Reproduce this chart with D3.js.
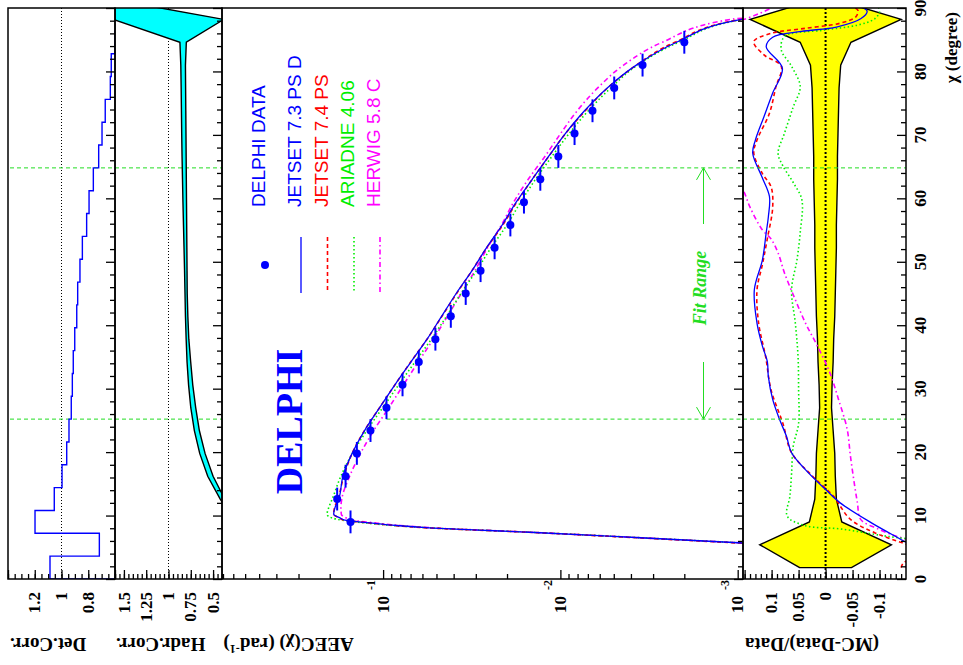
<!DOCTYPE html>
<html>
<head>
<meta charset="utf-8">
<script src="https://cdn.jsdelivr.net/npm/d3@7"></script>
<style>
  body { margin: 0; background: #fff; }
  svg { display: block; }
</style>
</head>
<body>
<svg id="chart" width="963" height="665"></svg>
<script>
// ---------------- data ----------------
// chi bin centres (degrees), bins of 3.6 degrees
const chiBins = [1.8, 5.4, 9.0, 12.6, 16.2, 19.8, 23.4, 27.0, 30.6, 34.2, 37.8, 41.4, 45.0,
                 48.6, 52.2, 55.8, 59.4, 63.0, 66.6, 70.2, 73.8, 77.4, 81.0, 84.6, 88.2];
const binHalfWidth = 1.8;

// detector correction factor per bin
const detCorr = [1.086, 0.717, 1.198, 1.054, 0.996, 0.961, 0.944, 0.927, 0.919, 0.912, 0.901, 0.886, 0.879,
                 0.862, 0.844, 0.812, 0.794, 0.762, 0.722, 0.697, 0.673, 0.635, 0.628, 0.600, 0.590];

// hadronisation correction band (upper / lower edge)
const hadrChi   = [1.8, 5.4, 9.0, 12.6, 16.2, 19.8, 23.4, 27.0, 30.6, 34.2, 37.8, 41.4, 45.0,
                   48.6, 52.2, 55.8, 59.4, 63.0, 66.6, 70.2, 73.8, 77.4, 81.0, 84.6, 88.2, 91.8];
const hadrUpper = [0.10, 0.15, 0.25, 0.42, 0.56, 0.65, 0.71, 0.75, 0.775, 0.792, 0.802, 0.810, 0.815,
                   0.820, 0.826, 0.832, 0.838, 0.843, 0.848, 0.852, 0.855, 0.858, 0.862, 0.872, 1.62, 1.80];
const hadrLower = [0.05, 0.10, 0.20, 0.37, 0.50, 0.59, 0.654, 0.695, 0.728, 0.751, 0.772, 0.783, 0.790,
                   0.792, 0.794, 0.796, 0.798, 0.800, 0.802, 0.804, 0.806, 0.808, 0.810, 0.800, 0.38, 1.80];

// DELPHI AEEC measurement (rad^-1)
const dataChi  = [9.0, 12.6, 16.2, 19.8, 23.4, 27.0, 30.6, 34.2, 37.8, 41.4, 45.0,
                  48.6, 52.2, 55.8, 59.4, 63.0, 66.6, 70.2, 73.8, 77.4, 81.0, 84.6];
const dataAEEC = [0.1527, 0.1816, 0.1628, 0.1406, 0.1178, 0.0957, 0.0777, 0.0629, 0.0507, 0.0415, 0.0342,
                  0.0282, 0.0235, 0.01915, 0.01605, 0.01298, 0.01027, 0.00832, 0.00659, 0.00497, 0.00344, 0.00200];

// model predictions of AEEC on a common chi grid
const modelChi = [5.4, 6.5, 7.37, 8.06, 8.43, 8.85, 9.27, 9.64, 10.2, 11.2, 12.6, 16.2, 19.8, 23.4, 27.0, 30.6,
                  34.2, 37.8, 41.4, 45.0, 48.6, 52.2, 55.8, 59.4, 63.0, 66.6, 70.2, 73.8, 77.4, 81.0, 84.6, 88.2, 90.0];
const aeecJetset73 = [0.0006, 0.00355, 0.0149, 0.0546, 0.0841, 0.119, 0.1644, 0.1754, 0.190, 0.187, 0.178, 0.1685,
                      0.1495, 0.1272, 0.1046, 0.0858, 0.0697, 0.0565, 0.0468, 0.0387, 0.0315, 0.02614, 0.0213,
                      0.01776, 0.01441, 0.01166, 0.00938, 0.00731, 0.00544, 0.00373, 0.00221, 0.00095, 0.00001];
const aeecJetset74 = [0.00065, 0.0037, 0.0152, 0.056, 0.086, 0.121, 0.165, 0.177, 0.190, 0.188, 0.1798, 0.1667,
                      0.1495, 0.1274, 0.1047, 0.0858, 0.0699, 0.0565, 0.0466, 0.0385, 0.03154, 0.02606, 0.02111,
                      0.01763, 0.01441, 0.01164, 0.00936, 0.00724, 0.00542, 0.00373, 0.00226, 0.00096, 0.00001];
const aeecAriadne  = [0.0006, 0.0035, 0.0148, 0.055, 0.088, 0.128, 0.170, 0.195, 0.207, 0.203, 0.1936, 0.1730,
                      0.1491, 0.1237, 0.1005, 0.0817, 0.0661, 0.0534, 0.0439, 0.03636, 0.02973, 0.02463, 0.02003,
                      0.01676, 0.01382, 0.01117, 0.00893, 0.00696, 0.0052, 0.00367, 0.00215, 0.00094, 0.00001];
const aeecHerwig   = [0.0006, 0.0035, 0.0146, 0.052, 0.080, 0.112, 0.148, 0.162, 0.172, 0.173, 0.1711, 0.1544,
                      0.1341, 0.1130, 0.0928, 0.0768, 0.0634, 0.0521, 0.0434, 0.03626, 0.03035, 0.02578, 0.02149,
                      0.01835, 0.01518, 0.01223, 0.00998, 0.00804, 0.00616, 0.0044, 0.00266, 0.0011, 0.00001];

// (MC - Data)/Data for each model
const j73RatioChi = [1.8, 4.0, 5.7, 6.7, 8.85, 12.0, 14.1, 17.2, 19.9, 22.5, 25.1, 28.3, 31.9, 34.3, 36.7, 40.3,
                     45.6, 50.3, 54.6, 57.1, 60.3, 63.4, 67.1, 69.2, 72.9, 76.6, 80.5, 83.9, 85.4, 86.3, 87.0, 88.3, 89.5, 90.0];
const j73Ratio    = [-0.20, -0.25, -0.152, -0.13, -0.085, -0.027, 0.0, 0.037, 0.063, 0.0725, 0.085, 0.098, 0.106,
                     0.108, 0.117, 0.127, 0.132, 0.117, 0.110, 0.106, 0.104, 0.118, 0.135, 0.130, 0.114, 0.098,
                     0.080, 0.110, 0.098, 0.045, -0.020, -0.065, -0.077, -0.070];
const j74RatioChi = [1.8, 2.6, 4.0, 5.7, 7.3, 9.4, 13.1, 16.2, 19.9, 24.5, 29.8, 35.0, 40.3, 45.6, 49.6, 53.6,
                     58.6, 61.8, 63.9, 67.1, 69.2, 73.4, 77.6, 80.8, 82.6, 84.7, 86.0, 86.8, 87.6, 88.6, 89.6, 90.0];
const j74Ratio    = [-0.140, -0.145, -0.200, -0.142, -0.091, -0.046, -0.014, 0.024, 0.063, 0.079, 0.101, 0.111,
                     0.124, 0.127, 0.117, 0.108, 0.098, 0.101, 0.117, 0.133, 0.127, 0.104, 0.092, 0.082, 0.114,
                     0.133, 0.101, 0.037, -0.027, -0.056, -0.060, -0.055];
const ariRatioChi = [5.9, 6.7, 7.9, 8.4, 9.9, 13.1, 16.7, 20.9, 24.5, 29.8, 35.0, 40.3, 45.6, 50.3, 54.6, 59.8,
                     62.5, 65.1, 67.1, 70.3, 74.4, 77.6, 80.8, 83.4, 85.5, 86.5, 87.3, 88.3, 89.4, 90.0];
const ariRatio    = [-0.20, -0.117, -0.027, 0.037, 0.071, 0.066, 0.063, 0.060, 0.050, 0.050, 0.051, 0.056, 0.063,
                     0.053, 0.047, 0.044, 0.060, 0.079, 0.088, 0.076, 0.060, 0.047, 0.063, 0.082, 0.076, 0.005,
                     -0.059, -0.091, -0.100, -0.098];
const herRatioChi = [1.8, 3.0, 5.0, 6.3, 7.9, 9.4, 12.0, 15.2, 19.4, 23.6, 28.3, 32.5, 36.7, 40.3, 44.0, 48.2,
                     51.4, 53.6, 55.0, 58.6, 61.3, 63.0, 66.6, 70.2, 73.8, 77.4, 81.0, 84.6, 86.5, 88.0, 90.0];
const herRatio    = [-0.148, -0.16, -0.25, -0.149, -0.097, -0.065, -0.059, -0.053, -0.046, -0.040, -0.024, -0.008,
                     0.015, 0.037, 0.056, 0.076, 0.088, 0.101, 0.117, 0.140, 0.153, 0.170, 0.190, 0.200, 0.220,
                     0.240, 0.280, 0.330, 0.300, 0.160, 0.100];

// relative data error band
const errChi  = [1.8, 5.4, 9.0, 12.6, 16.2, 19.8, 23.4, 27.0, 30.6, 34.2, 37.8, 41.4, 45.0,
                 48.6, 52.2, 55.8, 59.4, 63.0, 66.6, 70.2, 73.8, 77.4, 81.0, 84.6, 88.2, 91.8];
const relErr  = [0.048, 0.122, 0.030, 0.020, 0.018, 0.017, 0.014, 0.011, 0.012, 0.014, 0.015, 0.017, 0.018,
                 0.019, 0.020, 0.020, 0.021, 0.022, 0.022, 0.023, 0.024, 0.025, 0.028, 0.047, 0.140, 0.0];

// fit range limits (degrees) and AEEC value where the marker line ends
const fitRange = [25.2, 64.8];
const fitLineAEEC = [0.0957, 0.0130];

// axis tick labels
const chiTickLabels = ["0", "10", "20", "30", "40", "50", "60", "70", "80", "90"];
const detTickLabels = ["1.2", "1", "0.8"];
const hadrTickLabels = ["1.5", "1.25", "1", "0.75", "0.5"];
const aeecTickExponents = ["-1", "-2", "-3"];
const ratioTickLabels = ["0.1", "0.05", "0", "-0.05", "-0.1"];

const legendEntries = [
  { label: "DELPHI DATA",      color: "#0000ff", kind: "dot" },
  { label: "JETSET 7.3 PS D",  color: "#0000ff", kind: "solid" },
  { label: "JETSET 7.4 PS",    color: "#ff0000", kind: "dashed" },
  { label: "ARIADNE 4.06",     color: "#00ee00", kind: "dotted" },
  { label: "HERWIG 5.8 C",     color: "#ff00ff", kind: "dashdot" }
];

// ---------------- layout ----------------
const SERIF = "'Liberation Serif','Times New Roman',serif";
const SANS = "'Liberation Sans',Arial,Helvetica,sans-serif";
const yTop = 8, yBot = 579;
const edges = { det: [8, 115], hadr: [115, 222], aeec: [222, 743], ratio: [743, 906] };

const chiY   = d3.scaleLinear().domain([0, 90]).range([yBot, yTop]);
const detX   = d3.scaleLinear().domain([0.6, 1.4]).range([edges.det[1], edges.det[0]]);
const hadrX  = d3.scaleLinear().domain([0.4, 1.6]).range([edges.hadr[1], edges.hadr[0]]);
const aeecX  = d3.scaleLog().domain([Math.pow(10, -3.03), Math.pow(10, -0.0913)]).range([edges.aeec[1], edges.aeec[0]]);
const ratioX = d3.scaleLinear().domain([-0.149, 0.153]).range([edges.ratio[1], edges.ratio[0]]);

const styles = {
  solid:   { color: "#0000ff", width: 1.3, dash: null },
  dashed:  { color: "#ff0000", width: 1.6, dash: "4,3" },
  dotted:  { color: "#00ee00", width: 1.6, dash: "1.5,2.5" },
  dashdot: { color: "#ff00ff", width: 1.6, dash: "5,3,1.5,3" }
};

const svg = d3.select("#chart");
const defs = svg.append("defs");
Object.entries(edges).forEach(([k, [x0, x1]]) => {
  defs.append("clipPath").attr("id", "clip-" + k)
    .append("rect").attr("x", x0).attr("y", yTop).attr("width", x1 - x0).attr("height", yBot - yTop);
});

function panel(k) { return svg.append("g").attr("clip-path", `url(#clip-${k})`); }

function styled(sel, st) {
  sel.attr("fill", "none").attr("stroke", st.color).attr("stroke-width", st.width);
  if (st.dash) sel.attr("stroke-dasharray", st.dash);
  return sel;
}

function fitLines(g, x0, x1) {
  fitRange.forEach((c, i) => {
    const xa = typeof x0 === "function" ? x0(i) : x0;
    g.append("line").attr("x1", xa).attr("x2", x1).attr("y1", chiY(c)).attr("y2", chiY(c))
      .attr("stroke", "#22dd22").attr("stroke-width", 1).attr("stroke-dasharray", "4,3");
  });
}

function bandPath(xScale, chi, up, lo) {
  const pts = chi.map((c, i) => [xScale(up[i]), chiY(c)])
    .concat(chi.map((c, i) => [xScale(lo[i]), chiY(c)]).reverse());
  return d3.line()(pts) + "Z";
}

// ---------- Det.Corr. panel ----------
const gDet = panel("det");
gDet.append("line").attr("x1", detX(1)).attr("x2", detX(1)).attr("y1", yTop).attr("y2", yBot)
  .attr("stroke", "#000").attr("stroke-width", 1).attr("stroke-dasharray", "1,2");
fitLines(gDet, edges.det[0] + 2, edges.det[1]);
const detPts = [[detX.domain()[0], 0]];
chiBins.forEach((c, i) => {
  detPts.push([detCorr[i], c - binHalfWidth]);
  detPts.push([detCorr[i], c + binHalfWidth]);
});
detPts.push([detX.domain()[0], 90]);
gDet.append("path")
  .attr("d", d3.line().x(d => detX(d[0])).y(d => chiY(d[1]))(detPts))
  .attr("fill", "none").attr("stroke", "#0000ff").attr("stroke-width", 1.4);

// ---------- Hadr.Corr. panel ----------
const gHadr = panel("hadr");
gHadr.append("line").attr("x1", hadrX(1)).attr("x2", hadrX(1)).attr("y1", yTop).attr("y2", yBot)
  .attr("stroke", "#000").attr("stroke-width", 1).attr("stroke-dasharray", "1,2");
fitLines(gHadr, edges.hadr[0], edges.hadr[1]);
gHadr.append("path").attr("d", bandPath(hadrX, hadrChi, hadrUpper, hadrLower))
  .attr("fill", "#00ffff").attr("stroke", "#000").attr("stroke-width", 1.4);

// ---------- AEEC panel ----------
const gA = panel("aeec");
fitLines(gA, i => aeecX(fitLineAEEC[i]), edges.aeec[1]);
const models = [
  { vals: aeecHerwig,   st: styles.dashdot },
  { vals: aeecAriadne,  st: styles.dotted },
  { vals: aeecJetset74, st: styles.dashed },
  { vals: aeecJetset73, st: styles.solid }
];
const aeecLine = d3.line().x(d => aeecX(d[1])).y(d => chiY(d[0])).curve(d3.curveMonotoneY);
models.forEach(m => {
  const pts = modelChi.map((c, i) => [c, m.vals[i]]).reverse();
  styled(gA.append("path").attr("d", aeecLine(pts)), m.st);
});
// data points with bin-width bars
const gData = gA.append("g");
dataChi.forEach((c, i) => {
  gData.append("line").attr("x1", aeecX(dataAEEC[i])).attr("x2", aeecX(dataAEEC[i]))
    .attr("y1", chiY(c - binHalfWidth)).attr("y2", chiY(c + binHalfWidth))
    .attr("stroke", "#0000ff").attr("stroke-width", 2);
  gData.append("circle").attr("cx", aeecX(dataAEEC[i])).attr("cy", chiY(c)).attr("r", 4)
    .attr("fill", "#0000ff");
});

// fit range arrows and label
const arrowX = 703.5;
const gFit = svg.append("g").attr("stroke", "#22dd22").attr("fill", "none").attr("stroke-width", 1);
gFit.append("line").attr("x1", arrowX).attr("x2", arrowX).attr("y1", 224).attr("y2", chiY(fitRange[1]));
gFit.append("polyline").attr("points",
  `${arrowX - 7},${chiY(fitRange[1]) + 12} ${arrowX},${chiY(fitRange[1])} ${arrowX + 7},${chiY(fitRange[1]) + 12}`);
gFit.append("line").attr("x1", arrowX).attr("x2", arrowX).attr("y1", 362).attr("y2", chiY(fitRange[0]));
gFit.append("polyline").attr("points",
  `${arrowX - 7},${chiY(fitRange[0]) - 12} ${arrowX},${chiY(fitRange[0])} ${arrowX + 7},${chiY(fitRange[0]) - 12}`);
svg.append("text").attr("transform", `translate(706,288) rotate(-90)`)
  .attr("text-anchor", "middle").attr("font-family", SERIF).attr("font-weight", "bold")
  .attr("font-style", "italic").attr("font-size", 18).attr("fill", "#22dd22").text("Fit Range");

// DELPHI logo text
svg.append("text").attr("transform", `translate(302,421.5) rotate(-90)`)
  .attr("text-anchor", "middle").attr("font-family", SERIF).attr("font-weight", "bold")
  .attr("font-size", 38).attr("fill", "#0000ff").text("DELPHI");

// legend
const legendX = [265, 301, 327.5, 354, 380];
legendEntries.forEach((e, i) => {
  const x = legendX[i];
  if (e.kind === "dot") {
    svg.append("circle").attr("cx", x).attr("cy", 265).attr("r", 4).attr("fill", e.color);
  } else {
    styled(svg.append("line").attr("x1", x).attr("x2", x).attr("y1", 237).attr("y2", 293), styles[e.kind]);
  }
  svg.append("text").attr("transform", `translate(${x},207) rotate(-90)`)
    .attr("text-anchor", "start").attr("font-family", SANS).attr("font-size", 19)
    .attr("fill", e.color).text(e.label);
});

// ---------- ratio panel ----------
const gR = panel("ratio");
const negErr = relErr.map(v => -v);
gR.append("path").attr("d", bandPath(ratioX, errChi, relErr, negErr))
  .attr("fill", "#ffff00").attr("stroke", "#000").attr("stroke-width", 1.4);
gR.append("line").attr("x1", ratioX(0)).attr("x2", ratioX(0)).attr("y1", yTop).attr("y2", yBot)
  .attr("stroke", "#000").attr("stroke-width", 2).attr("stroke-dasharray", "2,2");
const ratioLine = d3.line().x(d => ratioX(d[1])).y(d => chiY(d[0])).curve(d3.curveCatmullRom.alpha(0.5));
[
  { chi: herRatioChi, r: herRatio, st: styles.dashdot },
  { chi: ariRatioChi, r: ariRatio, st: styles.dotted },
  { chi: j74RatioChi, r: j74Ratio, st: styles.dashed },
  { chi: j73RatioChi, r: j73Ratio, st: styles.solid }
].forEach(m => {
  const pts = m.chi.map((c, i) => [c, m.r[i]]);
  styled(gR.append("path").attr("d", ratioLine(pts)), m.st);
});
fitLines(gR, edges.ratio[0], edges.ratio[1]);

// ---------- frames and axes ----------
const gAxes = svg.append("g");
Object.values(edges).forEach(([x0, x1]) => {
  gAxes.append("rect").attr("x", x0).attr("y", yTop).attr("width", x1 - x0).attr("height", yBot - yTop)
    .attr("fill", "none").attr("stroke", "#000").attr("stroke-width", 1.5);
});

// chi ticks along the right edge of every panel, pointing inwards
const chiMajor = d3.range(0, 91, 10);
const chiMinor = d3.range(0, 91, 2).filter(v => v % 10 !== 0);
Object.values(edges).forEach(([x0, x1]) => {
  const g = gAxes.append("g").attr("transform", `translate(${x1},0)`);
  g.append("g").call(d3.axisLeft(chiY).tickValues(chiMajor).tickSize(9).tickFormat(""));
  g.append("g").call(d3.axisLeft(chiY).tickValues(chiMinor).tickSize(5).tickFormat(""));
  g.selectAll(".domain").remove();
  g.selectAll("line").attr("stroke-width", 1.3);
});

// value ticks along the bottom edge, pointing inwards
function valueTicks(scale, major, minor) {
  const g = gAxes.append("g").attr("transform", `translate(0,${yBot})`);
  g.append("g").call(d3.axisTop(scale).tickValues(major).tickSize(9).tickFormat(""));
  g.append("g").call(d3.axisTop(scale).tickValues(minor).tickSize(5).tickFormat(""));
  g.selectAll(".domain").remove();
  g.selectAll("line").attr("stroke-width", 1.3);
}
const stepVals = (a, b, s) => d3.range(Math.round(a / s), Math.round(b / s) + 1).map(k => +(k * s).toFixed(4));
valueTicks(detX, stepVals(0.6, 1.4, 0.2), stepVals(0.6, 1.4, 0.05));
valueTicks(hadrX, stepVals(0.5, 1.5, 0.25), stepVals(0.4, 1.6, 0.05));
const logMinor = [];
[-3, -2, -1].forEach(d => { for (let k = 2; k <= 9; k++) logMinor.push(k * Math.pow(10, d)); });
valueTicks(aeecX, [0.001, 0.01, 0.1], logMinor.filter(v => v < aeecX.domain()[1]));
valueTicks(ratioX, stepVals(-0.1, 0.15, 0.05), stepVals(-0.14, 0.15, 0.01));

function tickLabel(x, y, str, anchor) {
  return gAxes.append("text").attr("transform", `translate(${x},${y}) rotate(-90)`)
    .attr("text-anchor", anchor).attr("font-family", SERIF).attr("font-weight", "bold")
    .attr("font-size", 17).attr("fill", "#000").text(str);
}

// chi axis labels
chiMajor.forEach((v, i) => tickLabel(925.5, chiY(v), chiTickLabels[i], "middle"));
gAxes.append("text").attr("transform", `translate(957,12) rotate(-90)`)
  .attr("text-anchor", "end").attr("font-family", SERIF).attr("font-weight", "bold")
  .attr("font-size", 17).text("χ (degree)");

// value labels
detTickLabels.forEach(s => tickLabel(detX(+s) + 5.6, 592, s, "end"));
hadrTickLabels.forEach(s => tickLabel(hadrX(+s) + 5.6, 592, s, "end"));
ratioTickLabels.forEach(s => tickLabel(ratioX(+s) + 5.6, 592, s, "end"));
aeecTickExponents.forEach(e => {
  const t = tickLabel(aeecX(Math.pow(10, +e)) + 5.6, 580, "", "end");
  t.append("tspan").text("10");
  t.append("tspan").attr("dy", -14).attr("dx", 6).attr("font-size", 12).text(e);
});

// panel titles (upside down)
function title(x, parts) {
  const t = gAxes.append("text").attr("transform", `translate(${x},638) rotate(180)`)
    .attr("text-anchor", "end").attr("font-family", SERIF).attr("font-weight", "bold")
    .attr("font-size", 19).attr("fill", "#000");
  parts.forEach(p => {
    const s = t.append("tspan").text(p.t);
    if (p.sup) s.attr("dy", -7).attr("font-size", 12);
    if (p.down) s.attr("dy", 7);
  });
}
title(10, [{ t: "Det.Corr." }]);
title(116, [{ t: "Hadr.Corr." }]);
title(223.5, [{ t: "AEEC(χ) (rad" }, { t: "-1", sup: true }, { t: ")", down: true }]);
title(745, [{ t: "(MC-Data)/Data" }]);
</script>
</body>
